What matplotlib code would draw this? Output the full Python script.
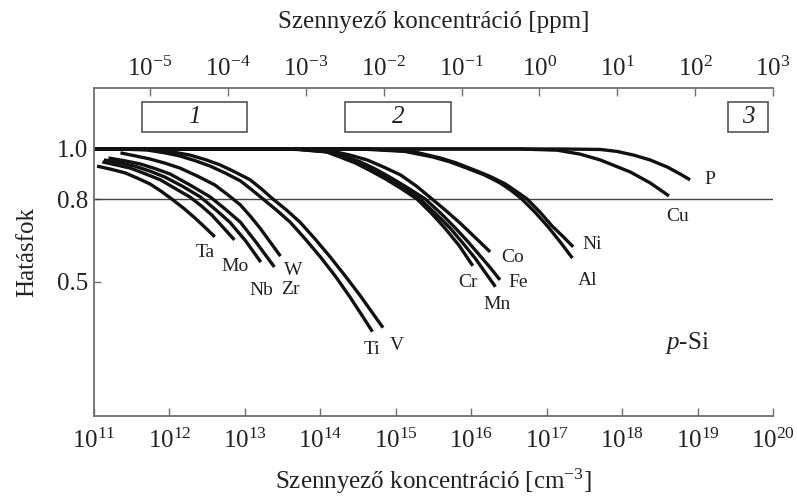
import numpy as np
import matplotlib
matplotlib.use("Agg")
import matplotlib.pyplot as plt
import matplotlib.transforms as mtransforms
from matplotlib.patches import Rectangle
from matplotlib.ticker import NullLocator, FixedLocator, LogFormatterMathtext

plt.rcParams['font.family'] = ['Liberation Serif', 'DejaVu Serif']
plt.rcParams['mathtext.fontset'] = 'custom'
plt.rcParams['mathtext.rm'] = 'Liberation Serif'
plt.rcParams['mathtext.it'] = 'Liberation Serif:italic'

# === DATA: log10(concentration / cm^-3) and normalised efficiency ===
ta_logn = [11.04, 11.23, 11.41, 11.58, 11.74, 11.89, 12.03, 12.19, 12.34, 12.47, 12.60]
ta_eff = [0.930, 0.917, 0.903, 0.881, 0.859, 0.830, 0.800, 0.764, 0.727, 0.693, 0.658]
mo_logn = [11.11, 11.29, 11.48, 11.68, 11.88, 12.07, 12.27, 12.42, 12.56, 12.71, 12.86]
mo_eff = [0.947, 0.935, 0.922, 0.899, 0.875, 0.842, 0.808, 0.774, 0.739, 0.693, 0.647]
nb_logn = [11.13, 11.34, 11.54, 11.74, 11.94, 12.17, 12.41, 12.60, 12.80, 13.01, 13.21]
nb_eff = [0.955, 0.944, 0.930, 0.910, 0.886, 0.850, 0.808, 0.762, 0.712, 0.643, 0.568]
zr_logn = [11.19, 11.40, 11.61, 11.81, 12.01, 12.27, 12.54, 12.74, 12.94, 13.16, 13.39]
zr_eff = [0.963, 0.952, 0.939, 0.920, 0.898, 0.855, 0.808, 0.761, 0.712, 0.634, 0.551]
w_logn = [11.35, 11.54, 11.74, 11.94, 12.14, 12.37, 12.60, 12.77, 12.94, 13.07, 13.20, 13.33, 13.47]
w_eff = [0.984, 0.972, 0.959, 0.942, 0.922, 0.890, 0.855, 0.817, 0.777, 0.735, 0.690, 0.641, 0.589]
ti_logn = [11.0, 11.41, 11.70, 11.94, 12.14, 12.34, 12.54, 12.74, 12.94, 13.09,
           13.24, 13.42, 13.60, 13.80, 14.00, 14.20, 14.39, 14.54, 14.69]
ti_eff = [1.0, 0.999, 0.996, 0.984, 0.971, 0.952, 0.930, 0.902, 0.871, 0.836,
          0.800, 0.757, 0.712, 0.650, 0.586, 0.519, 0.451, 0.396, 0.342]
v_logn = [11.0, 11.54, 11.88, 12.09, 12.27, 12.47, 12.67, 12.87, 13.07, 13.22,
          13.37, 13.55, 13.73, 13.93, 14.13, 14.33, 14.53, 14.68, 14.83]
v_eff = [1.0, 0.999, 0.996, 0.985, 0.975, 0.957, 0.935, 0.906, 0.875, 0.839,
         0.800, 0.758, 0.712, 0.650, 0.586, 0.520, 0.454, 0.403, 0.354]
cr_logn = [11.0, 13.44, 13.70, 14.08, 14.26, 14.46, 14.66, 14.86, 15.07, 15.28, 15.47, 15.65, 15.84, 16.02]
cr_eff = [1.0, 1.0, 0.998, 0.988, 0.967, 0.943, 0.912, 0.879, 0.841, 0.800, 0.746, 0.690, 0.626, 0.555]
mn_logn = [11.0, 13.47, 13.73, 14.10, 14.30, 14.50, 14.70, 14.90, 15.11, 15.32,
           15.52, 15.72, 15.88, 16.05, 16.18, 16.32]
mn_eff = [1.0, 1.0, 0.998, 0.988, 0.967, 0.943, 0.912, 0.879, 0.841, 0.800,
          0.746, 0.690, 0.638, 0.582, 0.534, 0.484]
fe_logn = [11.0, 13.53, 13.80, 14.13, 14.33, 14.53, 14.73, 14.92, 15.16, 15.39,
           15.59, 15.79, 15.96, 16.12, 16.25, 16.38]
fe_eff = [1.0, 1.0, 0.998, 0.988, 0.969, 0.947, 0.918, 0.886, 0.843, 0.800,
          0.747, 0.690, 0.639, 0.589, 0.549, 0.507]
co_logn = [11.0, 13.47, 13.86, 14.17, 14.39, 14.62, 14.84, 15.06, 15.27, 15.48, 15.67, 15.85, 16.05, 16.25]
co_eff = [1.0, 1.0, 0.998, 0.990, 0.975, 0.955, 0.926, 0.895, 0.851, 0.800, 0.754, 0.709, 0.656, 0.604]
al_logn = [11.0, 14.53, 15.12, 15.49, 15.72, 15.94, 16.17, 16.38, 16.53, 16.67, 16.85, 17.02, 17.18, 17.34]
al_eff = [1.0, 1.0, 0.990, 0.967, 0.947, 0.922, 0.895, 0.863, 0.833, 0.800, 0.748, 0.694, 0.639, 0.582]
ni_logn = [11.0, 14.66, 15.22, 15.59, 15.80, 16.01, 16.24, 16.45, 16.59, 16.74, 16.91, 17.07, 17.22, 17.35]
ni_eff = [1.0, 1.0, 0.990, 0.963, 0.943, 0.918, 0.890, 0.859, 0.831, 0.800, 0.750, 0.698, 0.658, 0.622]
cu_logn = [11.0, 16.65, 17.14, 17.44, 17.71, 18.11, 18.37, 18.62]
cu_eff = [1.0, 1.0, 0.995, 0.979, 0.955, 0.906, 0.863, 0.812]
p_logn = [11.0, 17.18, 17.71, 17.93, 18.15, 18.37, 18.60, 18.77, 18.90]
p_eff = [1.0, 1.0, 0.998, 0.990, 0.975, 0.955, 0.926, 0.898, 0.875]

# concentration ranges marked by the numbered boxes (log10 cm^-3)
range_labels = ["1", "2", "3"]
range_logn = [(11.64, 13.03), (14.33, 15.73), (19.40, 19.93)]

# label offsets from curve end (pixels)
curves = [
    ("Ta", ta_logn, ta_eff, (-10, -16)),
    ("Mo", mo_logn, mo_eff, (1, -27)),
    ("Nb", nb_logn, nb_eff, (1, -28)),
    ("Zr", zr_logn, zr_eff, (16, -23)),
    ("W", w_logn, w_eff, (13, -14)),
    ("Ti", ti_logn, ti_eff, (0, -18)),
    ("V", v_logn, v_eff, (14, -18)),
    ("Cr", cr_logn, cr_eff, (-5, -17)),
    ("Mn", mn_logn, mn_eff, (2, -18)),
    ("Fe", fe_logn, fe_eff, (18, -3)),
    ("Co", co_logn, co_eff, (22, -6)),
    ("Al", al_logn, al_eff, (15, -22)),
    ("Ni", ni_logn, ni_eff, (19, 2)),
    ("Cu", cu_logn, cu_eff, (9, -21)),
    ("P", p_logn, p_eff, (20, 0)),
]


def fwd(y):
    y = np.asarray(y, dtype=float)
    return np.sign(y) * np.abs(y) ** 0.7


def inv(y):
    y = np.asarray(y, dtype=float)
    return np.sign(y) * np.abs(y) ** (1 / 0.7)


spine_col = "#707070"
text_col = "#222222"

fig = plt.figure(figsize=(7.97, 5.01), dpi=100)
ax = fig.add_axes([0.118, 0.1697, 0.852, 0.6547])
ax.set_xscale("log")
ax.set_yscale("function", functions=(fwd, inv))
ax.set_xlim(1e11, 1e20)
ax.set_ylim(0.1212, 1.2611)

ax.axhline(0.8, color="#444444", lw=1.0)

for name, logn, eff, off in curves:
    xs = 10 ** np.array(logn)
    ax.plot(xs, eff, color="#111111", lw=2.4, solid_capstyle="butt", solid_joinstyle="round")
    ax.annotate(name, xy=(xs[-1], eff[-1]), xytext=off, textcoords="offset pixels",
                ha="center", va="center", fontsize=14, color=text_col)

# numbered boxes
trans = mtransforms.blended_transform_factory(ax.transData, ax.transAxes)
for lab, (a, b) in zip(range_labels, range_logn):
    ax.add_patch(Rectangle((10 ** a, 0.866), 10 ** b - 10 ** a, 0.0914, transform=trans,
                           fill=False, ec="#555555", lw=1.2))
    ax.text(10 ** ((a + b) / 2), 0.911, lab, transform=trans, ha="center", va="center",
            fontsize=18, style="italic", color=text_col)

ax.text(0.873, 0.2226, "$p$-Si", transform=ax.transAxes, ha="center", va="center",
        fontsize=18, color=text_col)

# bottom / left axis
ax.xaxis.set_major_locator(FixedLocator([10.0 ** k for k in range(11, 21)]))
ax.xaxis.set_major_formatter(LogFormatterMathtext())
ax.xaxis.set_minor_locator(NullLocator())
ax.set_yticks([0.5, 0.8, 1.0])
ax.set_yticklabels(["0.5", "0.8", "1.0"])
ax.yaxis.set_minor_locator(NullLocator())
ax.tick_params(axis="x", direction="in", length=6, width=1, color=spine_col,
               labelcolor=text_col, labelsize=18, pad=9)
ax.tick_params(axis="y", direction="in", length=5, width=1, color=spine_col,
               labelcolor=text_col, labelsize=18, pad=4)
ax.set_xlabel("Szennyező koncentráció [cm$^{-3}$]", fontsize=18, color=text_col, labelpad=10)
ax.set_ylabel("Hatásfok", fontsize=18, color=text_col, labelpad=14)
for s in ["top", "right"]:
    ax.spines[s].set_visible(False)
for s in ["left", "bottom"]:
    ax.spines[s].set_color(spine_col)
    ax.spines[s].set_linewidth(1.3)

# top axis in ppm
ax_top = ax.twiny()
ax_top.set_xscale("log")
ax_top.set_xlim(10 ** -5.719, 1e3)
ax_top.xaxis.set_major_locator(FixedLocator([10.0 ** k for k in range(-5, 4)]))
ax_top.xaxis.set_major_formatter(LogFormatterMathtext())
ax_top.xaxis.set_minor_locator(NullLocator())
ax_top.tick_params(axis="x", direction="in", length=6, width=1, color=spine_col,
                   labelcolor=text_col, labelsize=18, pad=5)
ax_top.set_xlabel("Szennyező koncentráció [ppm]", fontsize=18, color=text_col, labelpad=21)
for s in ["left", "right", "bottom"]:
    ax_top.spines[s].set_visible(False)
ax_top.spines["top"].set_color(spine_col)
ax_top.spines["top"].set_linewidth(1.3)

fig.savefig("out.png", dpi=100)
